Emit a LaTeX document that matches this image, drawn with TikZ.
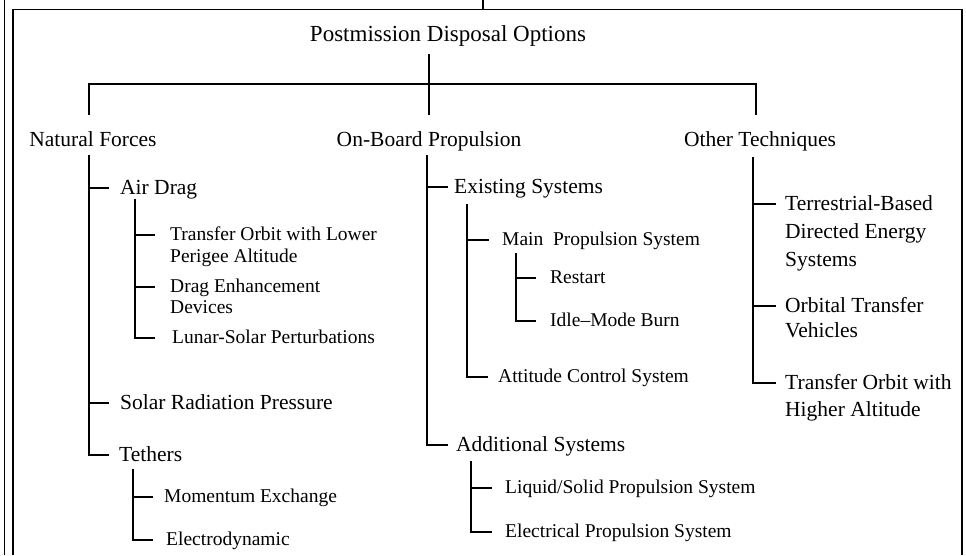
\documentclass[tikz,border=0pt]{standalone}
\usepackage{fontspec}
\setmainfont{Liberation Serif}
\newcommand\fsz[1]{\fontsize{#1}{#1}\selectfont}
\newcommand\mlines[2]{\vtop{\baselineskip=#1pt\halign{##\hfil\cr#2\crcr}}}
\tikzset{
  lbl/.style={inner sep=0pt, anchor=base west},
  ttl/.style={inner sep=0pt, anchor=base, font=\fsz{21.5}},
  lA/.style={lbl, font=\fsz{21.5}},
  lC/.style={lbl, font=\fsz{19.5}},
  ln/.style={line width=1.2pt},
}
\begin{document}
\begin{tikzpicture}[x=1pt, y=-1pt]
\useasboundingbox (0,0) rectangle (966,555);
% frame
\draw[ln] (4.5,0) -- (4.5,555);
\draw[ln] (13,555) |- (962,9.5) -- (962,555);
\draw[ln] (483,0) -- (483,9.5);

% top level
\node[ttl, font=\fsz{23}] (root) at (448,41) {Postmission Disposal Options};
\node[ttl] (nf) at (93,146) {Natural Forces};
\node[ttl] (ob) at (429,146) {On-Board Propulsion};
\node[ttl] (ot) at (760,146) {Other Techniques};

\draw[ln] (ob.north |- 0,54) -- (ob.north |- 0,115);
\draw[ln] (89,115) |- (756,84) -- (756,115);

% Natural Forces branch
\coordinate (nfS) at (89,155);
\node[lA] (ad) at (120,194.4) {Air Drag};
\node[lC] (tl) at (170,240.8) {\mlines{22}{Transfer Orbit with Lower\cr Perigee Altitude}};
\node[lC] (de) at (170,292.8) {\mlines{21}{Drag Enhancement\cr Devices}};
\node[lC] (ls) at (172,343.8) {Lunar-Solar Perturbations};
\node[lA] (sr) at (120,409.4) {Solar Radiation Pressure};
\node[lA] (te) at (119,461.4) {Tethers};
\node[lC] (me) at (164,502.8) {Momentum Exchange};
\node[lC] (ed) at (166,545.8) {Electrodynamic};

\draw[ln] (nfS) |- ([xshift=-11pt, yshift=6.4pt]ad.base west);
\draw[ln] (nfS) |- ([xshift=-11pt, yshift=6.4pt]sr.base west);
\draw[ln] (nfS) |- ([xshift=-10pt, yshift=6.4pt]te.base west);
\coordinate (adS) at (135,199);
\draw[ln] (adS) |- ([xshift=-15pt, yshift=5.8pt]tl.base west);
\draw[ln] (adS) |- ([xshift=-15pt, yshift=5.8pt]de.base west);
\draw[ln] (adS) |- ([xshift=-17pt, yshift=5.8pt]ls.base west);
\coordinate (teS) at (133,469);
\draw[ln] (teS) |- ([xshift=-11pt, yshift=5.8pt]me.base west);
\draw[ln] (teS) |- ([xshift=-13pt, yshift=5.8pt]ed.base west);

% On-Board Propulsion branch
\coordinate (obS) at (427,155);
\node[lA] (es) at (454,193.4) {Existing Systems};
\node[lC] (mp) at (502,245.8) {Main\ \ Propulsion System};
\node[lC] (rs) at (550,283.8) {Restart};
\node[lC] (im) at (550,326.8) {Idle–Mode Burn};
\node[lC] (ac) at (498,382.8) {Attitude Control System};
\node[lA] (as) at (456,451.4) {Additional Systems};
\node[lC] (lq) at (505,493.8) {Liquid/Solid Propulsion System};
\node[lC] (ep) at (505,537.8) {Electrical Propulsion System};

\draw[ln] (obS) |- ([xshift=-6pt, yshift=6.4pt]es.base west);
\draw[ln] (obS) |- ([xshift=-8pt, yshift=6.4pt]as.base west);
\coordinate (esS) at (467,204);
\draw[ln] (esS) |- ([xshift=-13pt, yshift=5.8pt]mp.base west);
\draw[ln] (esS) |- ([xshift=-10pt, yshift=5.8pt]ac.base west);
\coordinate (mpS) at (516,253);
\draw[ln] (mpS) |- ([xshift=-14pt, yshift=5.8pt]rs.base west);
\draw[ln] (mpS) |- ([xshift=-14pt, yshift=5.8pt]im.base west);
\coordinate (asS) at (471,461);
\draw[ln] (asS) |- ([xshift=-13pt, yshift=5.8pt]lq.base west);
\draw[ln] (asS) |- ([xshift=-13pt, yshift=5.8pt]ep.base west);

% Other Techniques branch
\coordinate (otS) at (753,157);
\node[lA] (tb) at (785,210.4) {\mlines{28}{Terrestrial-Based\cr Directed Energy\cr Systems}};
\node[lA] (ov) at (785,312.4) {\mlines{25}{Orbital Transfer\cr Vehicles}};
\node[lA] (th) at (785,389.4) {\mlines{27}{Transfer Orbit with\cr Higher Altitude}};
\draw[ln] (otS) |- ([xshift=-9pt, yshift=6.4pt]tb.base west);
\draw[ln] (otS) |- ([xshift=-9pt, yshift=6.4pt]ov.base west);
\draw[ln] (otS) |- ([xshift=-9pt, yshift=6.4pt]th.base west);
\end{tikzpicture}
\end{document}
